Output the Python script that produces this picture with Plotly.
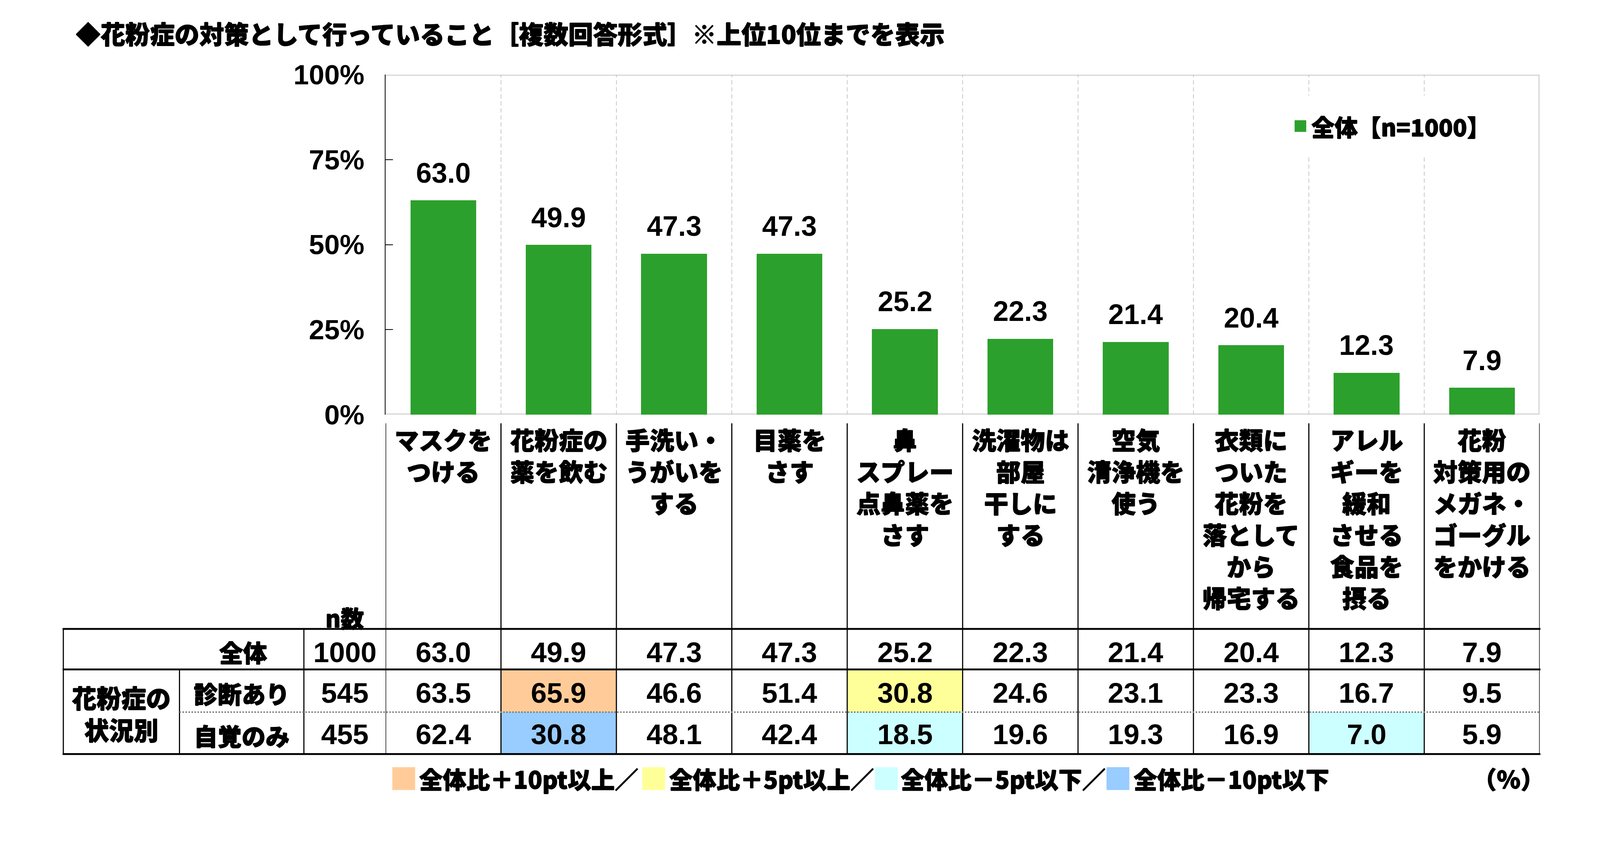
import plotly.graph_objects as go

# reference picture size (all positions below are measured in these pixels)
W, H = 4270, 2172
# the page is photographed from a ~4096 css-px wide viewport, so draw at that size
FIG_W, FIG_H = 4096, 2084
S = FIG_W / W

# ---- data ----
categories = [
    "マスクを<br>つける",
    "花粉症の<br>薬を飲む",
    "手洗い・<br>うがいを<br>する",
    "目薬を<br>さす",
    "鼻<br>スプレー<br>点鼻薬を<br>さす",
    "洗濯物は<br>部屋<br>干しに<br>する",
    "空気<br>清浄機を<br>使う",
    "衣類に<br>ついた<br>花粉を<br>落として<br>から<br>帰宅する",
    "アレル<br>ギーを<br>緩和<br>させる<br>食品を<br>摂る",
    "花粉<br>対策用の<br>メガネ・<br>ゴーグル<br>をかける",
]
overall = [63.0, 49.9, 47.3, 47.3, 25.2, 22.3, 21.4, 20.4, 12.3, 7.9]
diagnosed = [63.5, 65.9, 46.6, 51.4, 30.8, 24.6, 23.1, 23.3, 16.7, 9.5]
self_aware = [62.4, 30.8, 48.1, 42.4, 18.5, 19.6, 19.3, 16.9, 7.0, 5.9]
row_labels = ["全体", "診断あり", "自覚のみ"]
row_n = [1000, 545, 455]
group_label = "花粉症の<br>状況別"
y_ticks = [0, 25, 50, 75, 100]
series_name = "全体【n=1000】"
title = "◆花粉症の対策として行っていること［複数回答形式］※上位10位までを表示"
key_labels = ["全体比＋10pt以上／", "全体比＋5pt以上／", "全体比－5pt以下／", "全体比－10pt以下"]

GREEN = "#2CA02C"
C_P10, C_P5, C_M5, C_M10 = "#FFCC99", "#FFFF99", "#CCFFFF", "#99CCFF"
key_colors = [C_P10, C_P5, C_M5, C_M10]

JP = "Noto Sans CJK JP"
NUM = "Liberation Sans, Arial, sans-serif"
NARROW = "Liberation Sans Narrow, Liberation Sans, Arial, sans-serif"
# thin outline to make the bold gothic look heavier, like the original
HEAVY = "0.85px 0 0 black, -0.85px 0 0 black, 0 0.85px 0 black, 0 -0.85px 0 black"


def px(x):
    return x / W


def py(y):
    return 1 - y / H


def sz(v):
    return v * S


def jp_font(size):
    return dict(family=JP, size=sz(size), color="black", weight=900, shadow=HEAVY)


def num_font(size):
    return dict(family=NUM, size=sz(size), color="black", weight=700)


def cell_color(v, base):
    d = v - base
    if d >= 10:
        return C_P10
    if d >= 5:
        return C_P5
    if d <= -10:
        return C_M10
    if d <= -5:
        return C_M5
    return None


fig = go.Figure()
fig.add_trace(go.Bar(x=categories, y=overall, name=series_name, width=0.57,
                     marker=dict(color=GREEN, line=dict(width=0)),
                     hoverinfo="skip", showlegend=False))

shapes = []
ann = []


def note(x, y, text, font, xanchor="center", yanchor="middle", xref="paper", yref="paper", **kw):
    ann.append(dict(x=x, y=y, xref=xref, yref=yref, text=text, showarrow=False,
                    xanchor=xanchor, yanchor=yanchor, font=font, **kw))


# plot frame (grey top/right/bottom) and dashed column separators
for x0, x1, y0, y1 in [(-0.5, 9.5, 100, 100), (9.5, 9.5, 0, 100), (-0.5, 9.5, 0, 0)]:
    shapes.append(dict(type="line", xref="x", yref="y", x0=x0, x1=x1, y0=y0, y1=y1,
                       line=dict(color="#D9D9D9", width=sz(7)), layer="below"))
for i in range(len(categories) - 1):
    shapes.append(dict(type="line", xref="x", yref="y", x0=i + 0.5, x1=i + 0.5, y0=0, y1=100,
                       line=dict(color="#C8C8C8", width=2, dash="11px,7px"), layer="below"))

# value labels
for c, v in zip(categories, overall):
    note(c, v, f"{v:.1f}", num_font(75), yanchor="bottom", xref="x", yref="y", yshift=sz(30))

# legend (top right)
shapes.append(dict(type="rect", xref="paper", yref="paper", x0=px(3430), x1=px(3990),
                   y0=py(420), y1=py(255), fillcolor="white", line=dict(width=0)))
shapes.append(dict(type="rect", xref="paper", yref="paper", x0=px(3455), x1=px(3486),
                   y0=py(352), y1=py(321), fillcolor=GREEN, line=dict(width=0)))
note(px(3498), py(337), series_name, jp_font(62), xanchor="left")

# category labels
for c in categories:
    note(c, py(1124), c, jp_font(65), yanchor="top", xref="x", align="center")

# table cell fills
rows_y = [(1679, 1787), (1787, 1901), (1901, 2013)]
for r, vals in [(1, diagnosed), (2, self_aware)]:
    for i, (v, b) in enumerate(zip(vals, overall)):
        col = cell_color(v, b)
        if col:
            shapes.append(dict(type="rect", xref="x", yref="paper", x0=i - 0.5, x1=i + 0.5,
                               y0=py(rows_y[r][1]), y1=py(rows_y[r][0]),
                               fillcolor=col, line=dict(width=0)))

# table / label grid lines
for i in range(len(categories) + 1):
    shapes.append(dict(type="line", xref="x", yref="paper", x0=i - 0.5, x1=i - 0.5,
                       y0=py(1130), y1=py(2013), line=dict(color="black", width=sz(3))))
for x, ya, yb in [(169, 1679, 2013), (479, 1787, 2013), (811, 1679, 2013)]:
    shapes.append(dict(type="line", xref="paper", yref="paper", x0=px(x), x1=px(x),
                       y0=py(ya), y1=py(yb), line=dict(color="black", width=sz(3))))
for y in [1679, 1787, 2013]:
    shapes.append(dict(type="line", xref="paper", yref="paper", x0=px(167), x1=px(4111),
                       y0=py(y), y1=py(y), line=dict(color="black", width=sz(5))))
shapes.append(dict(type="line", xref="paper", yref="paper", x0=px(479), x1=px(4109),
                   y0=py(1901), y1=py(1901), line=dict(color="#808080", width=sz(4), dash="dot")))

# table texts
row_cy = [1741, 1849, 1960]
row_label_cy = [1740, 1850, 1963]
note(px(920), py(1648), "n数", jp_font(62))
note(px(715), py(row_label_cy[0]), row_labels[0], jp_font(64), xanchor="right")
for k in (1, 2):
    note(px(645), py(row_label_cy[k]), row_labels[k], jp_font(64))
note(px(324), py(1904), group_label, jp_font(66), align="center")
for k, (n, vals) in enumerate(zip(row_n, [overall, diagnosed, self_aware])):
    note(px(920), py(row_cy[k]), str(n), num_font(76))
    for c, v in zip(categories, vals):
        note(c, py(row_cy[k]), f"{v:.1f}", num_font(76), xref="x")

# colour key below table
key_sq = [1047, 1714, 2335, 2953]
key_tx = [1116, 1784, 2402, 3023]
for s, t, col, lab in zip(key_sq, key_tx, key_colors, key_labels):
    shapes.append(dict(type="rect", xref="paper", yref="paper", x0=px(s), x1=px(s + 61),
                       y0=py(2109), y1=py(2048), fillcolor=col, line=dict(width=0)))
    note(px(t), py(2078), lab, jp_font(63), xanchor="left")
note(px(4124), py(2078), "（％）", jp_font(64), xanchor="right")

# title
note(px(200), py(88), title, jp_font(66), xanchor="left")

fig.update_layout(
    width=FIG_W, height=FIG_H, autosize=False,
    margin=dict(l=0, r=0, t=0, b=0, autoexpand=False),
    paper_bgcolor="white", plot_bgcolor="white",
    bargap=0,
    shapes=shapes, annotations=ann,
    xaxis=dict(domain=[px(1029), px(4109)], type="category", range=[-0.5, 9.5],
               showticklabels=False, showgrid=False, zeroline=False, showline=False,
               ticks="", fixedrange=True),
    yaxis=dict(domain=[py(1107), py(199)], range=[0, 100], tickvals=y_ticks,
               ticktext=[f"{v}%" for v in y_ticks],
               ticks="inside", ticklen=round(sz(20)), tickwidth=2, tickcolor="black",
               showline=True, linecolor="black", linewidth=2,
               showgrid=False, zeroline=False, ticklabelstandoff=round(sz(40)),
               tickfont=dict(family=NARROW, size=sz(74), color="black", weight=700),
               fixedrange=True),
)

fig.write_html("out.html", config={"displayModeBar": False},
               post_script="document.body.style.margin='0';")
